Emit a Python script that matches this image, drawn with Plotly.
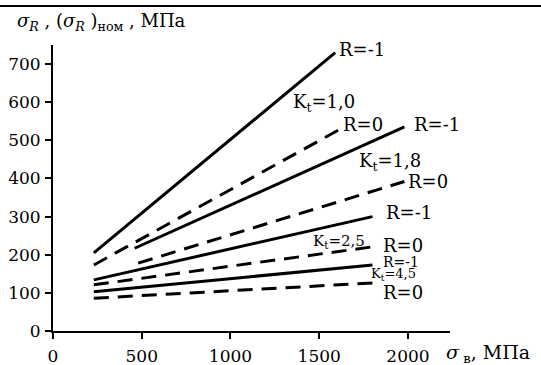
import plotly.graph_objects as go

# Data: straight-line relations sigma_R vs sigma_v for various Kt and R
series_kt = ["1,0", "1,0", "1,8", "1,8", "2,5", "2,5", "4,5", "4,5"]
series_r = ["-1", "0", "-1", "0", "-1", "0", "-1", "0"]
x_start = [230, 230, 460, 480, 230, 230, 230, 230]
x_end = [1590, 1620, 1980, 1980, 1800, 1820, 1800, 1800]
y_start = [205, 173, 217, 178, 134, 121, 103, 86]
y_end = [730, 530, 535, 392, 300, 222, 173, 126]

x_ticks = [0, 500, 1000, 1500, 2000]
y_ticks = [0, 100, 200, 300, 400, 500, 600, 700]

# Label texts with anchor positions (data units)
label_text = ["R=-1", "K<sub>t</sub>=1,0", "R=0", "R=-1", "K<sub>t</sub>=1,8", "R=0",
              "R=-1", "K<sub>t</sub>=2,5", "R=0", "R=-1", "K<sub>t</sub>=4,5", "R=0"]
label_x = [1600, 1340, 1622, 2022, 1712, 1988, 1864, 1453, 1847, 1847, 1780, 1847]
label_y = [737, 598, 541, 541, 444, 391, 310, 236, 224, 181, 147, 102]
label_size = [18, 18, 18, 18, 18, 18, 18, 15, 18, 14, 13, 18]

FONT = "DejaVu Serif"

fig = go.Figure()
for i in range(len(x_start)):
    fig.add_trace(go.Scatter(
        x=[x_start[i], x_end[i]],
        y=[y_start[i], y_end[i]],
        mode="lines",
        line=dict(color="black", width=3,
                  dash="solid" if series_r[i] == "-1" else "15px,9px"),
        name=f"Kt={series_kt[i]}, R={series_r[i]}",
        showlegend=False,
        hoverinfo="skip",
    ))

for t, x, y, s in zip(label_text, label_x, label_y, label_size):
    fig.add_annotation(x=x, y=y, text=t, showarrow=False, xanchor="left",
                       yanchor="middle", font=dict(family=FONT, size=s, color="black"))

# axis titles
fig.add_annotation(xref="paper", yref="paper", x=-0.095, y=1.08,
                   text="<i>σ<sub>R</sub></i> , (<i>σ<sub>R</sub></i> )<sub>ном</sub> , МПа",
                   showarrow=False, xanchor="left", yanchor="middle",
                   font=dict(family=FONT, size=18, color="black"))
fig.add_annotation(xref="paper", yref="paper", x=0.985, y=-0.08,
                   text="<i>σ</i><sub> в</sub>, МПа",
                   showarrow=False, xanchor="left", yanchor="middle",
                   font=dict(family=FONT, size=19, color="black"))

W, H = 541, 365
L, R, T, B = 53, 91, 45, 34
pw, ph = W - L - R, H - T - B
top_y = 1 + (T - 6) / ph
fig.add_shape(type="line", xref="paper", yref="paper", layer="above",
              x0=-L / pw, x1=1 + R / pw, y0=top_y, y1=top_y,
              line=dict(color="black", width=2))

fig.update_layout(
    width=W, height=H,
    margin=dict(l=L, r=R, t=T, b=B),
    paper_bgcolor="white", plot_bgcolor="white",
    font=dict(family=FONT, size=18, color="black"),
    xaxis=dict(range=[0, 2237], tickvals=x_ticks, showgrid=False, zeroline=False,
               showline=True, linecolor="black", linewidth=2, automargin=False,
               ticks="outside", ticklen=6, tickwidth=2, tickcolor="black",
               ticklabelstandoff=3, tickfont=dict(family=FONT, size=17)),
    yaxis=dict(range=[0, 750], tickvals=y_ticks, showgrid=False, zeroline=False,
               showline=True, linecolor="black", linewidth=2, automargin=False,
               ticks="outside", ticklen=6, tickwidth=2, tickcolor="black",
               ticklabelstandoff=1, tickfont=dict(family=FONT, size=17)),
)
fig.write_html("out.html", config={"displayModeBar": False},
               post_script="document.body.style.margin='0';document.body.style.overflow='hidden';")
